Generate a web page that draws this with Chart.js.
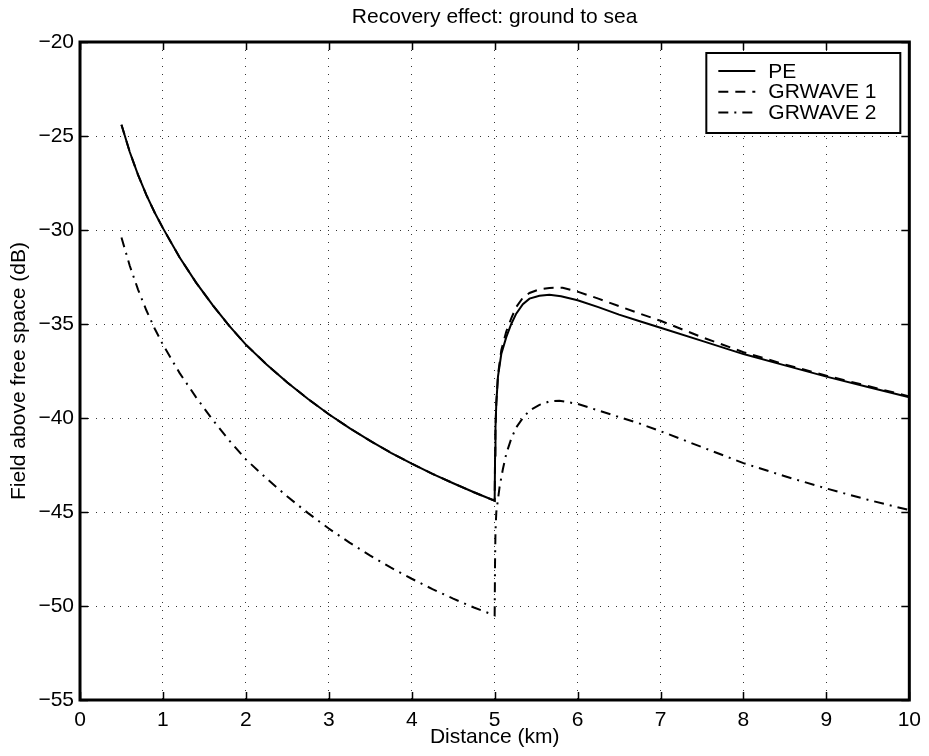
<!DOCTYPE html>
<html>
<head>
<meta charset="utf-8">
<title>Recovery effect: ground to sea</title>
<script src="https://cdn.jsdelivr.net/npm/chart.js@4.4.0/dist/chart.umd.min.js"></script>
<style>
  body { margin: 0; background: #fff; }
  canvas { display: block; }
</style>
</head>
<body>
<canvas id="chart" width="929" height="756"></canvas>
<script>
// distance (km) / field above free space (dB)
const peX = [0.5, 0.6, 0.7, 0.8, 0.9, 1.0, 1.2, 1.4, 1.6, 1.8, 2.0, 2.25, 2.5, 2.75, 3.0, 3.25, 3.5, 3.75, 4.0, 4.25, 4.5, 4.75, 5.0,
  5.005, 5.01, 5.02, 5.04, 5.08, 5.14, 5.2, 5.26, 5.34, 5.42, 5.54, 5.66, 5.8, 6.0, 6.25, 6.5, 6.75, 7.0, 7.5, 8.0, 8.5, 9.0, 9.5, 10];
const peY = [-24.4, -25.85, -27.07, -28.13, -29.07, -29.9, -31.45, -32.8, -34.0, -35.1, -36.1, -37.15, -38.11, -38.99, -39.8, -40.54, -41.22, -41.85, -42.43, -42.97, -43.47, -43.95, -44.4,
  -42.0, -40.5, -39.2, -37.8, -36.6, -35.7, -35.0, -34.45, -33.95, -33.65, -33.5, -33.45, -33.52, -33.74, -34.1, -34.5, -34.85, -35.2, -35.9, -36.6, -37.2, -37.8, -38.35, -38.9];

const grw1X = [0.5, 0.6, 0.7, 0.8, 0.9, 1.0, 1.2, 1.4, 1.6, 1.8, 2.0, 2.25, 2.5, 2.75, 3.0, 3.25, 3.5, 3.75, 4.0, 4.25, 4.5, 4.75, 5.0,
  5.005, 5.01, 5.02, 5.04, 5.08, 5.14, 5.2, 5.26, 5.34, 5.42, 5.54, 5.66, 5.82, 6.0, 6.25, 6.5, 6.75, 7.0, 7.5, 8.0, 8.5, 9.0, 9.5, 10];
const grw1Y = [-24.4, -25.85, -27.07, -28.13, -29.07, -29.9, -31.45, -32.8, -34.0, -35.1, -36.1, -37.15, -38.11, -38.99, -39.8, -40.54, -41.22, -41.85, -42.43, -42.97, -43.47, -43.95, -44.4,
  -42.0, -40.5, -39.2, -37.7, -36.4, -35.4, -34.7, -34.1, -33.6, -33.35, -33.15, -33.08, -33.07, -33.28, -33.65, -34.05, -34.45, -34.83, -35.7, -36.5, -37.15, -37.75, -38.3, -38.85];

const grw2X = [0.5, 0.6, 0.7, 0.8, 0.9, 1.0, 1.2, 1.4, 1.6, 1.8, 2.0, 2.25, 2.5, 2.75, 3.0, 3.25, 3.5, 3.75, 4.0, 4.25, 4.5, 4.75, 5.0,
  5.005, 5.01, 5.02, 5.06, 5.1, 5.14, 5.2, 5.26, 5.34, 5.42, 5.54, 5.66, 5.78, 6.0, 6.25, 6.5, 6.75, 7.0, 7.5, 8.0, 8.5, 9.0, 9.5, 10];
const grw2Y = [-30.4, -31.9, -33.17, -34.27, -35.24, -36.1, -37.6, -38.9, -40.1, -41.2, -42.2, -43.22, -44.18, -45.06, -45.88, -46.63, -47.32, -47.96, -48.55, -49.1, -49.61, -50.08, -50.5,
  -47.5, -46.0, -45.0, -43.65, -42.7, -41.9, -41.1, -40.5, -40.0, -39.6, -39.3, -39.12, -39.08, -39.25, -39.6, -39.95, -40.3, -40.7, -41.55, -42.4, -43.1, -43.75, -44.35, -44.9];

const seriesNames = ['PE', 'GRWAVE 1', 'GRWAVE 2'];

const fontFamily = "'Liberation Sans', Arial, Helvetica, sans-serif";

function toPoints(xs, ys) {
  return xs.map((x, i) => ({x: x, y: ys[i]}));
}

// box, inward ticks and the legend, matlab style
const axesBox = {
  id: 'axesBox',
  afterDraw(chart) {
    const ctx = chart.ctx;
    const a = chart.chartArea;
    const sx = chart.scales.x, sy = chart.scales.y;
    ctx.save();
    ctx.strokeStyle = '#000';
    ctx.lineWidth = 1.5;
    ctx.beginPath();
    sx.ticks.forEach(t => {
      const px = Math.round(sx.getPixelForValue(t.value)) + 0.5;
      ctx.moveTo(px, a.bottom); ctx.lineTo(px, a.bottom - 8);
      ctx.moveTo(px, a.top); ctx.lineTo(px, a.top + 8);
    });
    sy.ticks.forEach(t => {
      const py = Math.round(sy.getPixelForValue(t.value)) + 0.5;
      ctx.moveTo(a.left, py); ctx.lineTo(a.left + 8, py);
      ctx.moveTo(a.right, py); ctx.lineTo(a.right - 8, py);
    });
    ctx.stroke();
    ctx.lineWidth = 3;
    ctx.strokeRect(a.left, a.top, a.right - a.left, a.bottom - a.top);

    // legend
    const lx = a.right - 203, ly = a.top + 11, lw = 194, lh = 80;
    ctx.fillStyle = '#fff';
    ctx.fillRect(lx, ly, lw, lh);
    ctx.lineWidth = 2;
    ctx.strokeRect(lx, ly, lw, lh);
    ctx.font = '21px ' + fontFamily;
    ctx.textBaseline = 'middle';
    ctx.fillStyle = '#000';
    chart.data.datasets.forEach((ds, i) => {
      const ry = ly + 18 + i * 20.7;
      ctx.beginPath();
      ctx.setLineDash(ds.borderDash || []);
      ctx.lineWidth = 2;
      ctx.moveTo(lx + 12, ry);
      ctx.lineTo(lx + 49, ry);
      ctx.stroke();
      ctx.setLineDash([]);
      ctx.fillText(ds.label, lx + 62, ry + 1);
    });
    ctx.restore();
  }
};

new Chart(document.getElementById('chart'), {
  type: 'line',
  data: {
    datasets: [{
      label: seriesNames[0],
      data: toPoints(peX, peY),
      borderColor: '#000',
      borderWidth: 2,
      pointRadius: 0,
      tension: 0
    }, {
      label: seriesNames[1],
      data: toPoints(grw1X, grw1Y),
      borderColor: '#000',
      borderWidth: 2,
      borderDash: [10, 7],
      pointRadius: 0,
      tension: 0
    }, {
      label: seriesNames[2],
      data: toPoints(grw2X, grw2Y),
      borderColor: '#000',
      borderWidth: 2,
      borderDash: [10, 6, 2, 6],
      pointRadius: 0,
      tension: 0
    }]
  },
  options: {
    responsive: false,
    animation: false,
    layout: { padding: { left: 0, right: 13, top: 0, bottom: 0 } },
    plugins: {
      legend: { display: false },
      tooltip: { enabled: false },
      title: {
        display: true,
        fullSize: false,
        text: 'Recovery effect: ground to sea',
        color: '#000',
        font: { family: fontFamily, size: 21, weight: 'normal' },
        padding: { top: 5, bottom: 11.8 }
      }
    },
    scales: {
      x: {
        type: 'linear',
        min: 0,
        max: 10,
        ticks: {
          stepSize: 1,
          autoSkip: false,
          maxRotation: 0,
          padding: 8,
          color: '#000',
          font: { family: fontFamily, size: 21 }
        },
        grid: { color: 'rgba(0,0,0,0.8)', lineWidth: 1, drawTicks: false },
        border: { display: false, dash: [1, 7] },
        title: {
          display: true,
          text: 'Distance (km)',
          color: '#000',
          font: { family: fontFamily, size: 21 },
          padding: { top: 0, bottom: 6 }
        },
        afterFit(scale) { scale.height = 56; }
      },
      y: {
        type: 'linear',
        min: -55,
        max: -20,
        ticks: {
          stepSize: 5,
          padding: 6,
          color: '#000',
          font: { family: fontFamily, size: 21 },
          callback: v => String(v).replace('-', '\u2212')
        },
        grid: { color: 'rgba(0,0,0,0.8)', lineWidth: 1, drawTicks: false },
        border: { display: false, dash: [1, 7] },
        title: {
          display: true,
          text: 'Field above free space (dB)',
          color: '#000',
          font: { family: fontFamily, size: 21 },
          padding: { top: 7, bottom: 0 }
        },
        afterFit(scale) { scale.width = 80; }
      }
    }
  },
  plugins: [axesBox]
});
</script>
</body>
</html>
